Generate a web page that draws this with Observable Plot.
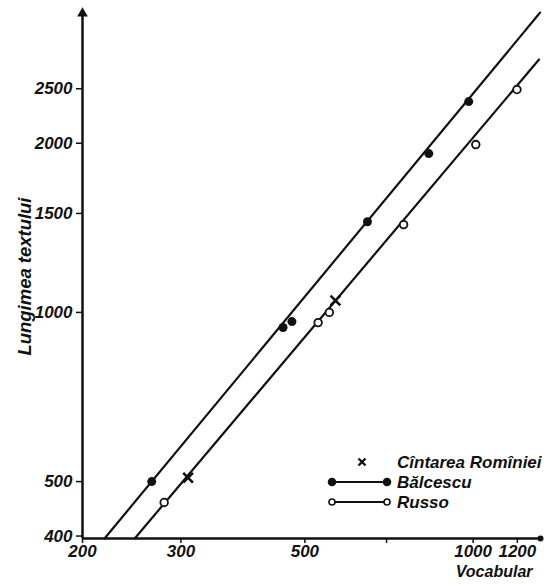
<!DOCTYPE html>
<html>
<head>
<meta charset="utf-8">
<script src="https://cdn.jsdelivr.net/npm/d3@7"></script>
<script src="https://cdn.jsdelivr.net/npm/@observablehq/plot@0.6"></script>
<style>
  html, body { margin: 0; padding: 0; background: #fff; }
  #wrap { position: relative; width: 546px; height: 584px; }
  #legend { position: absolute; left: 0; top: 0; pointer-events: none; }
</style>
</head>
<body>
<div id="wrap"></div>
<script>
// ---- data (log-log chart) ----
const xTicks = [200, 300, 500, 700, 1000, 1200];
const yTicks = [400, 500, 1000, 1500, 2000, 2500];
const xDomain = [200, 1320];
const yDomain = [396, 3445];

// Bălcescu (filled dots)
const balcescuVocab = [266, 457, 474, 647, 833, 982];
const balcescuLen   = [500, 940, 963, 1450, 1917, 2372];
// Russo (open dots)
const russoVocab = [280, 528, 553, 751, 1011, 1198];
const russoLen   = [459, 959, 1000, 1433, 1989, 2492];
// Cîntarea Romîniei (crosses)
const cintareaVocab = [309, 567];
const cintareaLen   = [508, 1050];
// fitted lines (end points)
const balcescuLineVocab = [219, 1318];
const balcescuLineLen   = [396, 3416];
const russoLineVocab = [248, 1312];
const russoLineLen   = [396, 2818];

const zip = (xs, ys) => xs.map((x, i) => ({x, y: ys[i]}));
const balcescu = zip(balcescuVocab, balcescuLen);
const russo = zip(russoVocab, russoLen);
const cintarea = zip(cintareaVocab, cintareaLen);
const balcescuLine = zip(balcescuLineVocab, balcescuLineLen);
const russoLine = zip(russoLineVocab, russoLineLen);

const FONT = '"Liberation Sans Narrow", "Liberation Sans", Arial, sans-serif';

const chart = Plot.plot({
  width: 546,
  height: 584,
  marginLeft: 82,
  marginRight: 6,
  marginTop: 10,
  marginBottom: 46,
  style: {fontFamily: FONT, fontStyle: "italic", fontWeight: "bold", fontSize: "17px", color: "#111", background: "#fff"},
  x: {type: "log", domain: xDomain},
  y: {type: "log", domain: yDomain},
  marks: [
    Plot.axisX(xTicks, {tickSize: 5, tickPadding: 1, tickFormat: d => String(d), label: null, strokeWidth: 1.5, fontSize: 17}),
    Plot.axisY(yTicks, {tickSize: 6, tickPadding: 4, tickFormat: d => String(d), label: null, strokeWidth: 1.5, fontSize: 17}),
    Plot.ruleX([xDomain[0]], {stroke: "#111", strokeWidth: 2.5}),
    Plot.ruleY([yDomain[0]], {stroke: "#111", strokeWidth: 2.5}),
    Plot.dot([{x: xDomain[0], y: yDomain[1]}], {x: "x", y: "y", symbol: "triangle", r: 4, fill: "#111", dy: 3}),
    Plot.dot([{x: xDomain[1], y: yDomain[0]}], {x: "x", y: "y", r: 3, fill: "#111"}),
    Plot.line(balcescuLine, {x: "x", y: "y", stroke: "#111", strokeWidth: 2.2}),
    Plot.line(russoLine, {x: "x", y: "y", stroke: "#111", strokeWidth: 2.2}),
    Plot.dot(balcescu, {x: "x", y: "y", r: 4.5, fill: "#111"}),
    Plot.dot(russo, {x: "x", y: "y", r: 3.8, fill: "#fff", stroke: "#111", strokeWidth: 1.8}),
    Plot.dot(cintarea, {x: "x", y: "y", symbol: "times", r: 4.5, stroke: "#111", strokeWidth: 2.6}),
    Plot.text(["Lungimea textului"], {frameAnchor: "left", textAnchor: "middle", rotate: -90, dx: -58, dy: 2, fontSize: 19, fill: "#111", className: "ylab"}),
    Plot.text(["Vocabular"], {frameAnchor: "bottom-right", textAnchor: "end", dx: -8, dy: 38, fontSize: 16, fill: "#111"})
  ]
});

const wrap = document.getElementById("wrap");
wrap.appendChild(chart);
// stretch the y label to the length seen in the reference
d3.select(chart).selectAll("g.ylab text")
  .attr("textLength", 158).attr("lengthAdjust", "spacingAndGlyphs");

// ---- legend overlay ----
const legendItems = [
  {label: "Cîntarea Romîniei", kind: "cross"},
  {label: "Bălcescu", kind: "filled"},
  {label: "Russo", kind: "open"}
];
const lg = d3.select(wrap).append("svg")
  .attr("id", "legend").attr("width", 546).attr("height", 584);
const rowY = i => 462 + i * 20;
legendItems.forEach((d, i) => {
  const y = rowY(i);
  if (d.kind === "cross") {
    lg.append("path").attr("d", "M-3.5,-3.5L3.5,3.5M-3.5,3.5L3.5,-3.5")
      .attr("transform", `translate(362,${y})`).attr("stroke", "#111").attr("stroke-width", 2.4);
  } else {
    lg.append("line").attr("x1", 332).attr("x2", 387).attr("y1", y).attr("y2", y)
      .attr("stroke", "#111").attr("stroke-width", 2);
    [332, 387].forEach(cx => lg.append("circle").attr("cx", cx).attr("cy", y)
      .attr("r", d.kind === "filled" ? 3.5 : 3)
      .attr("fill", d.kind === "filled" ? "#111" : "#fff")
      .attr("stroke", "#111").attr("stroke-width", 1.6));
  }
  lg.append("text").attr("x", 397).attr("y", y).attr("dy", "0.35em")
    .attr("font-family", FONT).attr("font-style", "italic").attr("font-weight", "bold")
    .attr("font-size", 17).attr("fill", "#111").text(d.label);
});
</script>
</body>
</html>
